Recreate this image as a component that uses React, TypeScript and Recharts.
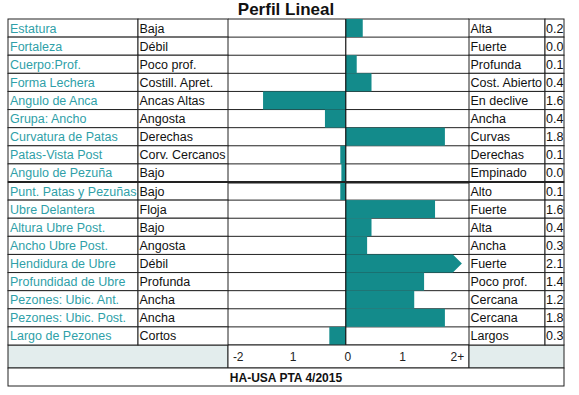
import React from "react";
import { BarChart, Bar, XAxis, YAxis, CartesianGrid, ReferenceLine } from "recharts";

const traits = [
  "Estatura", "Fortaleza", "Cuerpo:Prof.", "Forma Lechera", "Angulo de Anca", "Grupa: Ancho",
  "Curvatura de Patas", "Patas-Vista Post", "Angulo de Pezuña", "Punt. Patas y Pezuñas",
  "Ubre Delantera", "Altura Ubre Post.", "Ancho Ubre Post.", "Hendidura de Ubre",
  "Profundidad de Ubre", "Pezones: Ubic. Ant.", "Pezones: Ubic. Post.", "Largo de Pezones",
];
const lowLabels = [
  "Baja", "Débil", "Poco prof.", "Costill. Apret.", "Ancas Altas", "Angosta", "Derechas",
  "Corv. Cercanos", "Bajo", "Bajo", "Floja", "Bajo", "Angosta", "Débil", "Profunda",
  "Ancha", "Ancha", "Cortos",
];
const highLabels = [
  "Alta", "Fuerte", "Profunda", "Cost. Abierto", "En declive", "Ancha", "Curvas", "Derechas",
  "Empinado", "Alto", "Fuerte", "Alta", "Ancha", "Fuerte", "Poco prof.", "Cercana",
  "Cercana", "Largos",
];
const shownValues = [
  "0.2", "0.0", "0.1", "0.4", "1.6", "0.4", "1.8", "0.1", "0.0", "0.1", "1.6", "0.4",
  "0.3", "2.1", "1.4", "1.2", "1.8", "0.3",
];
const barValues = [
  0.31, 0, 0.2, 0.47, -1.51, -0.38, 1.81, -0.1, -0.08, -0.1, 1.63, 0.47, 0.39, 2.12,
  1.43, 1.25, 1.81, -0.3,
];
const axisTicks = [-2, -1, 0, 1, 2];
const axisTickLabels = ["-2", "1", "0", "1", "2+"];
const title = "Perfil Lineal";
const footer = "HA-USA PTA 4/2015";

const data = traits.map((t, i) => ({
  trait: t,
  low: lowLabels[i],
  high: highLabels[i],
  shown: shownValues[i],
  value: barValues[i],
}));

const W = 579;
const H = 395;
const L = 8;
const C2 = 138;
const P0 = 228;
const P1 = 469;
const C4 = 545;
const R = 564;
const TOP = 19;
const BOT = 345;
const AXB = 368;
const FOOT = 386;
const ROWH = (BOT - TOP) / traits.length;
const FONT = "'Liberation Sans', Arial, sans-serif";
const TEAL = "#138b8b";
const LABEL = "#2f9fa8";
const LINE = "#222";
const SHADE = "#e3eded";

function RowTick(props: any) {
  const { y, payload } = props;
  const idx = traits.indexOf(payload.value);
  const d = data[idx];
  const top = y - ROWH / 2;
  const ty = y + 0.5;
  return (
    <g style={{ fontFamily: FONT, fontSize: 12.5 }}>
      <rect x={L} y={top} width={C2 - L} height={ROWH} fill="#fff" stroke={LINE} />
      <rect x={C2} y={top} width={P0 - C2} height={ROWH} fill="#fff" stroke={LINE} />
      <rect x={P1} y={top} width={C4 - P1} height={ROWH} fill="#fff" stroke={LINE} />
      <rect x={C4} y={top} width={R - C4} height={ROWH} fill="#fff" stroke={LINE} />
      {idx === 9 && <line x1={L} x2={R} y1={top} y2={top} stroke={LINE} strokeWidth={2} />}
      <text x={L + 2} y={ty} fill={LABEL} dominantBaseline="central">{d.trait}</text>
      <text x={C2 + 1.5} y={ty} fill="#111" dominantBaseline="central">{d.low}</text>
      <text x={P1 + 1.5} y={ty} fill="#111" dominantBaseline="central">{d.high}</text>
      <text x={C4 + 1} y={ty} fill="#111" dominantBaseline="central">{d.shown}</text>
    </g>
  );
}

function AxisTick(props: any) {
  const { x, payload, index } = props;
  const i = axisTicks.indexOf(payload.value);
  return (
    <g style={{ fontFamily: FONT }}>
      {index === 0 && (
        <g>
          <rect x={L} y={BOT} width={P0 - L} height={AXB - BOT} fill={SHADE} stroke={LINE} />
          <rect x={P0} y={BOT} width={P1 - P0} height={AXB - BOT} fill="#fff" stroke={LINE} />
          <rect x={P1} y={BOT} width={R - P1} height={AXB - BOT} fill={SHADE} stroke={LINE} />
          <rect x={L} y={AXB} width={R - L} height={FOOT - AXB} fill="#fff" stroke={LINE} />
          <text x={(L + R) / 2} y={(AXB + FOOT) / 2 + 0.5} textAnchor="middle" dominantBaseline="central"
            fontWeight="bold" fontSize={12} fill="#111">{footer}</text>
          <text x={(L + R) / 2} y={15} textAnchor="middle" fontWeight="bold" fontSize={17} fill="#111">{title}</text>
        </g>
      )}
      <text x={x + 2} y={(BOT + AXB) / 2 + 0.5} textAnchor="middle" dominantBaseline="central"
        fontSize={12} fill="#222">{axisTickLabels[i]}</text>
    </g>
  );
}

function BarShape(props: any) {
  const { x, y, width, height, payload } = props;
  if (!width || Math.abs(width) < 0.5) return null;
  const x0 = width < 0 ? x + width : x;
  const w = Math.abs(width);
  if (payload.value > 2) {
    const head = 9;
    const pts = [
      [x0, y], [x0 + w - head, y], [x0 + w, y + height / 2], [x0 + w - head, y + height], [x0, y + height],
    ].map((p) => p.join(",")).join(" ");
    return <polygon points={pts} fill={TEAL} />;
  }
  return <rect x={x0} y={y} width={w} height={height} fill={TEAL} />;
}

export default function App() {
  return (
    <div style={{ position: "absolute", left: 0, top: 0, width: W, height: H, background: "#fff" }}>
      <BarChart
        width={W}
        height={H}
        data={data}
        layout="vertical"
        barCategoryGap={0}
        margin={{ top: TOP, left: L, right: W - P1, bottom: H - AXB }}
      >
        <XAxis
          type="number"
          domain={[-2.15, 2.25]}
          ticks={axisTicks}
          interval={0}
          axisLine={false}
          tickLine={false}
          height={AXB - BOT}
          tick={<AxisTick />}
          allowDataOverflow
        />
        <YAxis
          type="category"
          dataKey="trait"
          width={P0 - L}
          interval={0}
          axisLine={false}
          tickLine={false}
          tick={<RowTick />}
        />
        <Bar dataKey="value" fill={TEAL} isAnimationActive={false} shape={<BarShape />} />
        <CartesianGrid
          vertical={false}
          stroke={LINE}
          strokeDasharray=""
          horizontalCoordinatesGenerator={({ offset }: any) => {
            const n = traits.length;
            const arr: number[] = [];
            for (let i = 0; i <= n; i++) arr.push(offset.top + (i * offset.height) / n);
            arr.push(offset.top + (9 * offset.height) / n + 1);
            return arr;
          }}
        />
        <ReferenceLine x={0} stroke="#111" strokeWidth={1.2} />
      </BarChart>
    </div>
  );
}
